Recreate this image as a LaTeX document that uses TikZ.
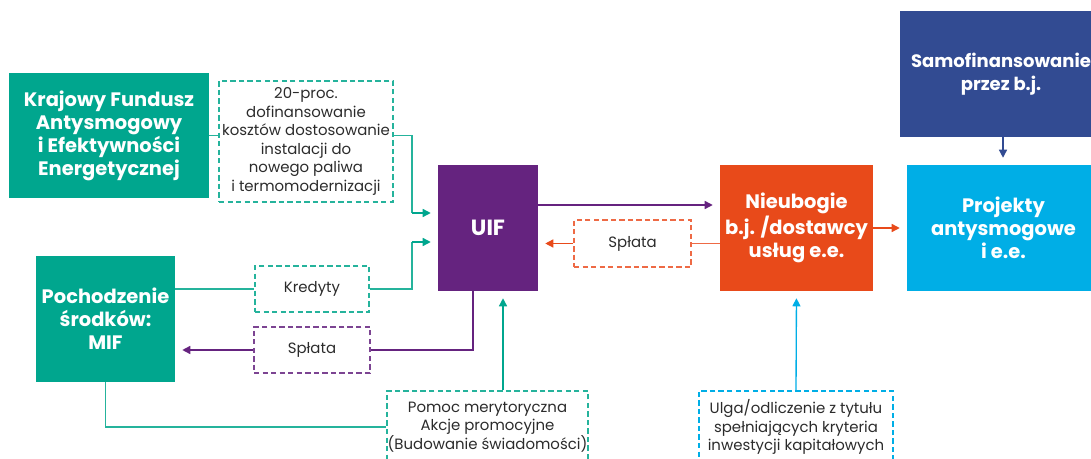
\documentclass[tikz,border=0pt]{standalone}
\usepackage{fontspec}
\setmainfont{Poppins}
\usetikzlibrary{arrows.meta,calc}
\definecolor{cteal}{HTML}{00A68E}
\definecolor{ctealline}{HTML}{25B39C}
\definecolor{cpurple}{HTML}{65237F}
\definecolor{corange}{HTML}{E84A1A}
\definecolor{corangeline}{HTML}{EE6A45}
\definecolor{cnavy}{HTML}{324B92}
\definecolor{csky}{HTML}{00AEE6}
\definecolor{ctext}{HTML}{2B2B2B}
\begin{document}
\begin{tikzpicture}[x=0.75pt,y=-0.75pt,
  solidbox/.style={rectangle,inner sep=0pt,text=white,align=center,
    font=\fontsize{14.6pt}{17.3pt}\selectfont\bfseries},
  dashbox/.style={rectangle,inner sep=0pt,draw,line width=0.8pt,
    dash pattern=on 4pt off 2.4pt,text=ctext,align=center,
    font=\fontsize{11.2pt}{13.9pt}\selectfont},
  conn/.style={line width=1pt},
  arr/.style={conn,-{Triangle[length=6pt,width=6pt]},shorten >=5.25pt}]
\useasboundingbox (0,0) rectangle (1091,459);
\clip (0,0) rectangle (1091,459);
% boxes
\node[solidbox,fill=cteal,minimum width=150pt,minimum height=93.75pt] (kfae) at (109,135.5)
  {Krajowy Fundusz\\Antysmogowy\\i Efektywności\\Energetycznej};
\node[dashbox,draw=ctealline,minimum width=130.5pt,minimum height=90.75pt] (d20) at (306,141.5)
  {20-proc.\\dofinansowanie\\kosztów dostosowanie\\instalacji do\\nowego paliwa\\i termomodernizacji};
\node[solidbox,fill=cpurple,minimum width=75pt,minimum height=94.5pt,
  font=\fontsize{16.5pt}{18pt}\selectfont\bfseries] (uif) at (488,228) {UIF};
\node[solidbox,fill=corange,minimum width=114.75pt,minimum height=94.5pt] (nieu) at (796.5,228)
  {Nieubogie\\b.j. /dostawcy\\usług e.e.};
\node[solidbox,fill=csky,minimum width=144.75pt,minimum height=94.5pt] (proj) at (1003.5,228)
  {Projekty\\antysmogowe\\i e.e.};
\node[solidbox,fill=cnavy,minimum width=154.5pt,minimum height=94.5pt] (samo) at (1003,74) {};
\node[solidbox,font=\fontsize{13.5pt}{17.3pt}\selectfont\bfseries] (samotext) at (1001,74)
  {Samofinansowanie\\przez b.j.};
\node[solidbox,fill=cteal,minimum width=104.25pt,minimum height=94.5pt] (mif) at (105.5,319)
  {Pochodzenie\\środków:\\MIF};
\node[dashbox,draw=ctealline,minimum width=85.5pt,minimum height=34.5pt] (kred) at (312,289) {Kredyty};
\node[dashbox,draw=cpurple!85,minimum width=87pt,minimum height=34.5pt] (splP) at (312,350) {Spłata};
\node[dashbox,draw=corangeline,minimum width=87.75pt,minimum height=35.25pt] (splO) at (632.5,243.5) {Spłata};
\node[dashbox,draw=ctealline,minimum width=150.75pt,minimum height=54pt] (pomoc) at (487.5,427)
  {Pomoc merytoryczna\\Akcje promocyjne\\(Budowanie świadomości)};
\node[dashbox,draw=csky,minimum width=145.5pt,minimum height=54pt] (ulga) at (796,427)
  {Ulga/odliczenie z tytułu\\spełniających kryteria\\inwestycji kapitałowych};
% junction coordinates
\coordinate (j1) at (412,213);
\coordinate (j2) at (412,242);
% connectors
\draw[conn,ctealline] (kfae.east) -- (kfae.east -| d20.west);
\draw[conn,ctealline] (d20.east |- kfae.east) -| (j1);
\draw[arr,cteal] (j1) -- (j1 -| uif.west);
\draw[conn,ctealline] (mif.east |- kred.west) -- (kred.west);
\draw[conn,ctealline] (kred.east) -| (j2);
\draw[arr,cteal] (j2) -- (j2 -| uif.west);
\draw[conn,cpurple] ($(uif.south)+(-15,0)$) |- (splP.east);
\draw[arr,cpurple] (splP.west) -- (splP.west -| mif.east);
\draw[conn,ctealline] (mif.south) |- (pomoc.west);
\draw[arr,cteal] ($(pomoc.north)+(15.5,0)$) -- ($(uif.south)+(15,0)$);
\draw[arr,csky] (ulga.north) -- (nieu.south);
\draw[arr,cpurple] ($(uif.east)+(0,-23)$) -- ($(nieu.west)+(0,-23)$);
\draw[conn,corangeline] (nieu.west |- splO.east) -- (splO.east);
\draw[arr,corange] (splO.west) -- (splO.west -| uif.east);
\draw[arr,corange] (nieu.east) -- (proj.west);
\draw[arr,cnavy] (samo.south) -- (samo.south |- proj.north);
\end{tikzpicture}
\end{document}
